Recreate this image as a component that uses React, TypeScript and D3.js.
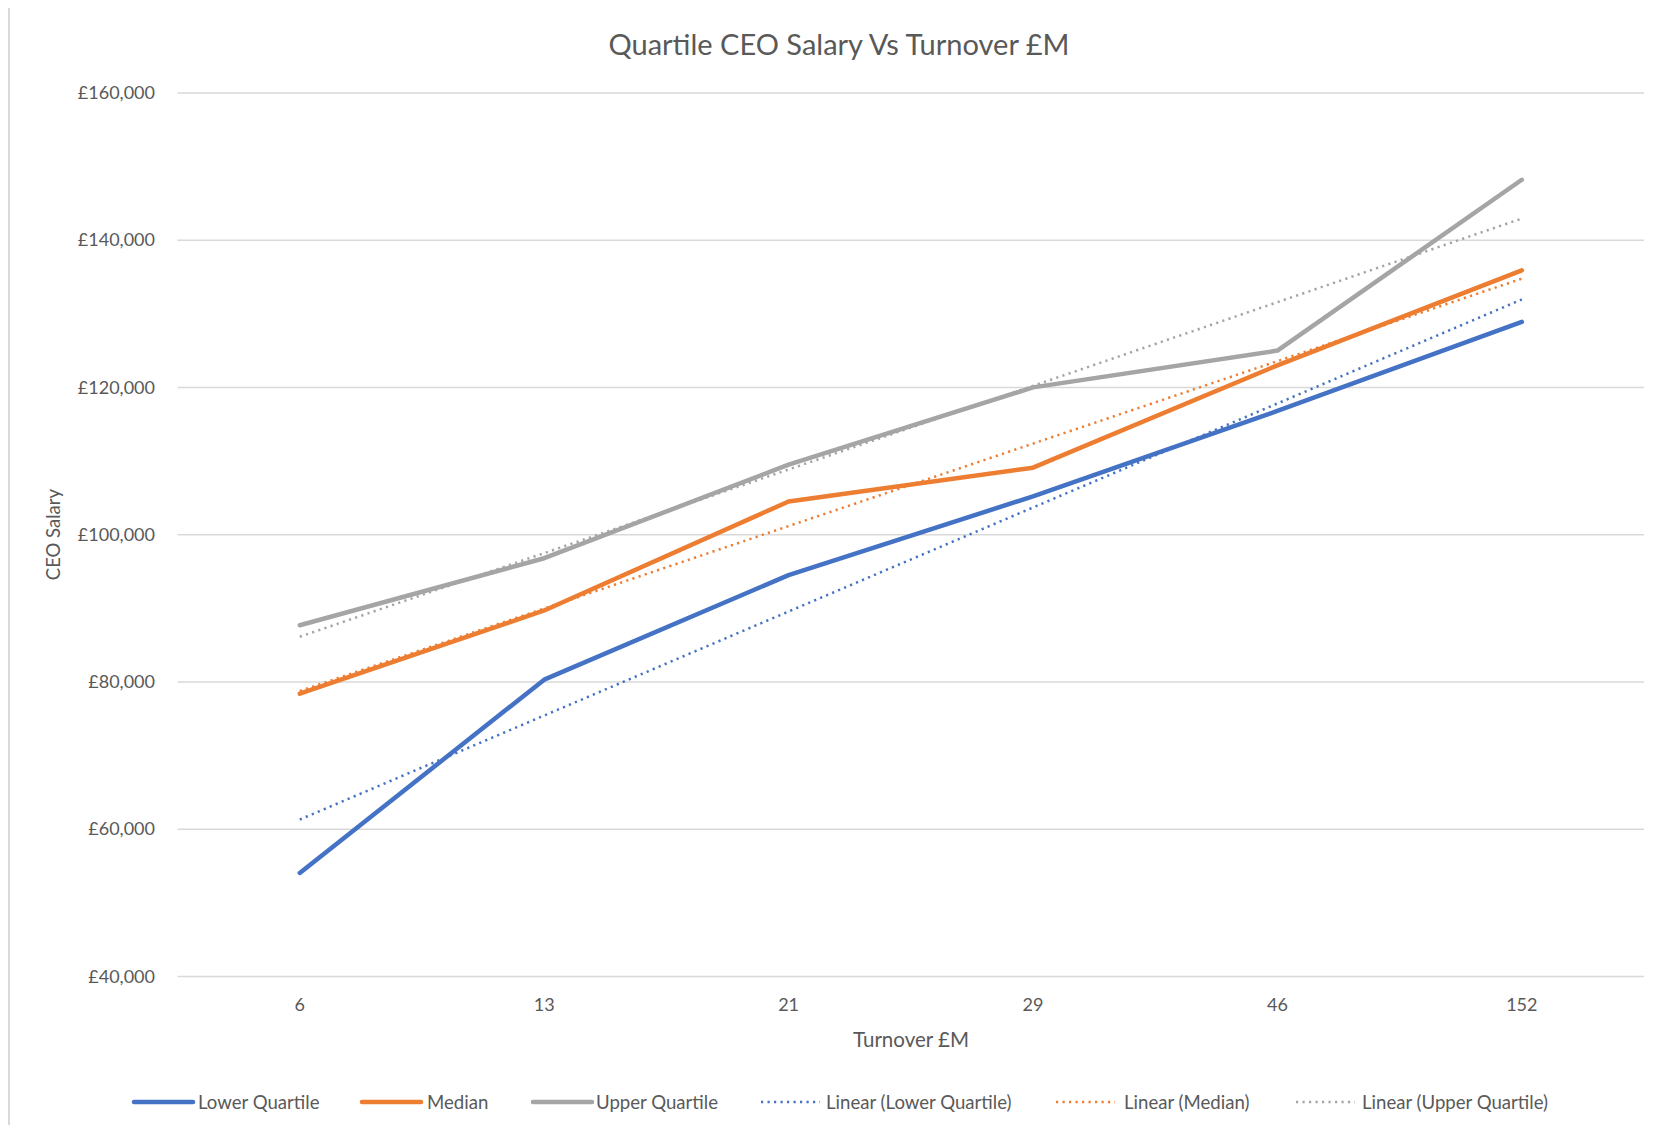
import React from "react";
import * as d3 from "d3";

const categories = ["6", "13", "21", "29", "46", "152"];
const lowerQuartile = [54050, 80300, 94500, 105200, 116800, 128900];
const median = [78400, 89700, 104500, 109100, 123000, 135900];
const upperQuartile = [87700, 96800, 109500, 120000, 125000, 148200];
const yTicks = [40000, 60000, 80000, 100000, 120000, 140000, 160000];

const seriesNames = ["Lower Quartile", "Median", "Upper Quartile"];
const colors = ["#4472C4", "#ED7D31", "#A5A5A5"];

const W = 1655;
const H = 1133;
const FONT = "Lato, 'Open Sans', sans-serif";

function linearFit(vals: number[]) {
  const xs = vals.map((_, i) => i + 1);
  const mx = d3.mean(xs) as number;
  const my = d3.mean(vals) as number;
  let num = 0;
  let den = 0;
  xs.forEach((x, i) => {
    num += (x - mx) * (vals[i] - my);
    den += (x - mx) * (x - mx);
  });
  const slope = num / den;
  const intercept = my - slope * mx;
  return xs.map((x) => intercept + slope * x);
}

export default function App() {
  const x = d3.scaleBand<string>().domain(categories).range([177.6, 1644]);
  const bw = x.bandwidth();
  const cx = (c: string) => (x(c) as number) + bw / 2;
  const y = d3.scaleLinear().domain([40000, 160000]).range([976.4, 92.9]);
  const fmt = (v: number) => "£" + d3.format(",")(v);

  const series = [lowerQuartile, median, upperQuartile];
  const line = d3
    .line<number>()
    .x((_, i) => cx(categories[i]))
    .y((v) => y(v));

  const legendItems = [
    { label: "Lower Quartile", color: colors[0], dotted: false, lx: 134, tx: 198 },
    { label: "Median", color: colors[1], dotted: false, lx: 362, tx: 427 },
    { label: "Upper Quartile", color: colors[2], dotted: false, lx: 533, tx: 596 },
    { label: "Linear (Lower Quartile)", color: colors[0], dotted: true, lx: 761, tx: 826 },
    { label: "Linear (Median)", color: colors[1], dotted: true, lx: 1056, tx: 1124 },
    { label: "Linear (Upper Quartile)", color: colors[2], dotted: true, lx: 1296, tx: 1362 },
  ];

  return (
    <div style={{ margin: -8 }}>
      <svg width={W} height={H} style={{ display: "block", background: "#fff" }}>
        <rect x={9} y={6} width={W + 20} height={H + 20} fill="#fff" stroke="#D9D9D9" strokeWidth={2} />
        <text x={839} y={55} textAnchor="middle" fontFamily={FONT} fontSize={29} fill="#595959">
          Quartile CEO Salary Vs Turnover £M
        </text>
        {yTicks.map((t) => (
          <g key={t}>
            <line x1={177.6} x2={1644} y1={y(t)} y2={y(t)} stroke="#D9D9D9" strokeWidth={1.5} />
            <text x={155} y={y(t)} dy="0.35em" textAnchor="end" fontFamily={FONT} fontSize={18} fill="#595959">
              {fmt(t)}
            </text>
          </g>
        ))}
        {categories.map((c) => (
          <text key={c} x={cx(c)} y={1011} textAnchor="middle" fontFamily={FONT} fontSize={18} fill="#595959">
            {c}
          </text>
        ))}
        <text x={911} y={1047} textAnchor="middle" fontFamily={FONT} fontSize={20.5} fill="#595959">
          Turnover £M
        </text>
        <text
          transform={`translate(60,534.6) rotate(-90)`}
          textAnchor="middle"
          fontFamily={FONT}
          fontSize={18.5}
          fill="#595959"
        >
          CEO Salary
        </text>
        {series.map((s, i) => (
          <path
            key={seriesNames[i]}
            d={line(s) as string}
            fill="none"
            stroke={colors[i]}
            strokeWidth={4.5}
            strokeLinejoin="round"
            strokeLinecap="round"
          />
        ))}
        {series.map((s, i) => (
          <path
            key={"trend" + i}
            d={line(linearFit(s)) as string}
            fill="none"
            stroke={colors[i]}
            strokeWidth={2.5}
            strokeDasharray="2.2 4.3"
          />
        ))}
        {legendItems.map((it) => (
          <g key={it.label}>
            <line
              x1={it.lx}
              x2={it.lx + 59}
              y1={1102}
              y2={1102}
              stroke={it.color}
              strokeWidth={it.dotted ? 2.5 : 4.5}
              strokeLinecap={it.dotted ? "butt" : "round"}
              strokeDasharray={it.dotted ? "2.2 4.3" : undefined}
            />
            <text x={it.tx} y={1102} dy="0.35em" fontFamily={FONT} fontSize={18.6} fill="#595959">
              {it.label}
            </text>
          </g>
        ))}
      </svg>
    </div>
  );
}
